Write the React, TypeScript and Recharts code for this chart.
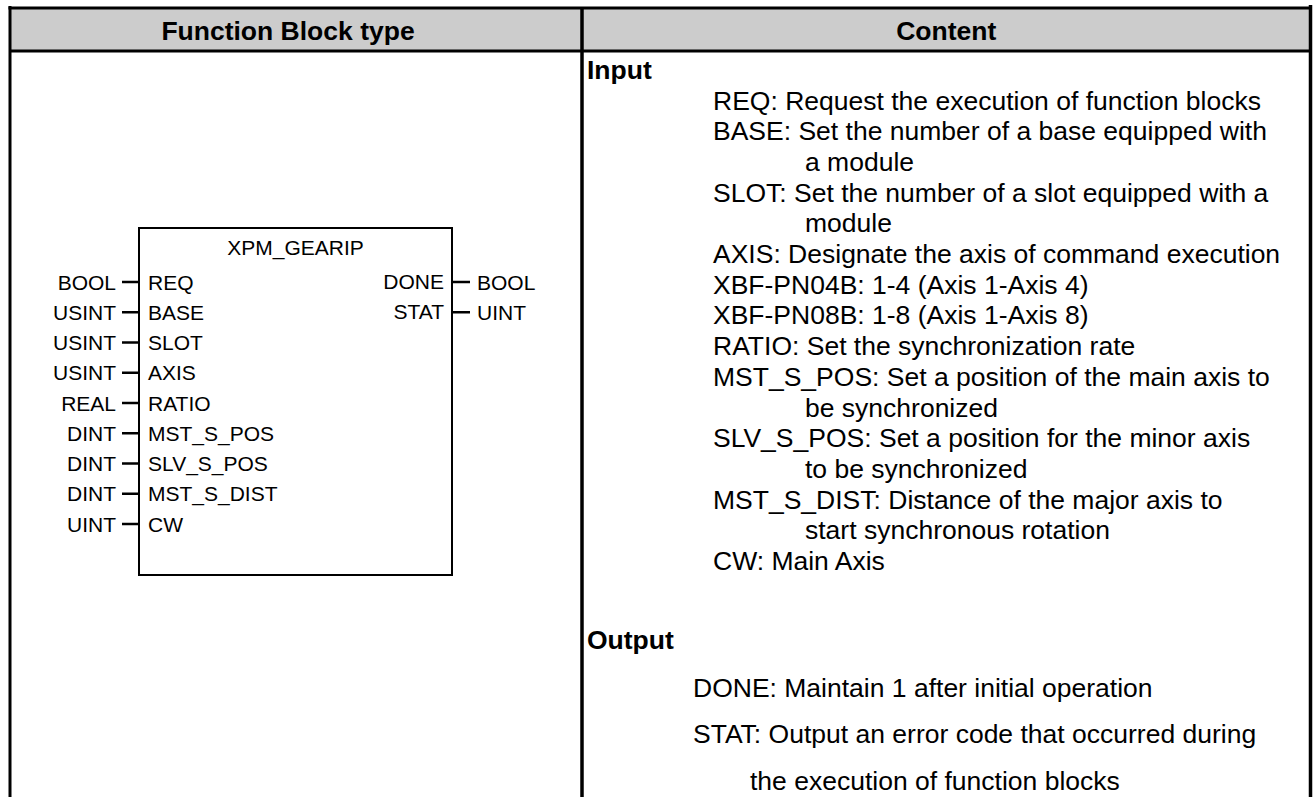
import React from 'react';
import {
  ReferenceArea,
  ReferenceLine,
  Scatter,
  ScatterChart,
  XAxis,
  YAxis,
} from 'recharts';

// page background should start at 0,0 like the reference
document.body.style.margin = '0';
document.body.style.overflow = 'hidden';

const W = 1314;
const H = 797;
const FONT = '"Liberation Sans", Arial, Helvetica, sans-serif';

// ---- table text ----
const headerLabels = ['Function Block type', 'Content'];
const sectionLabels = ['Input', 'Output'];

// ---- function block ----
const blockName = 'XPM_GEARIP';
const inputPins = ['REQ', 'BASE', 'SLOT', 'AXIS', 'RATIO', 'MST_S_POS', 'SLV_S_POS', 'MST_S_DIST', 'CW'];
const inputTypes = ['BOOL', 'USINT', 'USINT', 'USINT', 'REAL', 'DINT', 'DINT', 'DINT', 'UINT'];
const outputPins = ['DONE', 'STAT'];
const outputTypes = ['BOOL', 'UINT'];

// ---- content column (first line + wrapped continuation) ----
const inputLines = [
  ['REQ: Request the execution of function blocks'],
  ['BASE: Set the number of a base equipped with', 'a module'],
  ['SLOT: Set the number of a slot equipped with a', 'module'],
  ['AXIS: Designate the axis of command execution'],
  ['XBF-PN04B: 1-4 (Axis 1-Axis 4)'],
  ['XBF-PN08B: 1-8 (Axis 1-Axis 8)'],
  ['RATIO: Set the synchronization rate'],
  ['MST_S_POS: Set a position of the main axis to', 'be synchronized'],
  ['SLV_S_POS: Set a position for the minor axis', 'to be synchronized'],
  ['MST_S_DIST: Distance of the major axis to', 'start synchronous rotation'],
  ['CW: Main Axis'],
];
const outputLines = [
  ['DONE: Maintain 1 after initial operation'],
  ['STAT: Output an error code that occurred during', 'the execution of function blocks'],
];

// layout
const COL_L = 10;
const COL_M = 582;
const COL_R = 1310.5;
const TOP = 8;
const HEAD_B = 51;

const FB = {
  left: 139, right: 452, top: 228, bottom: 575,
  titleY: 247, pinY0: 282, pinStep: 30.25,
  stubIn: 122, stubOut: 470, typeIn: 116, typeOut: 477, pinIn: 148, pinOut: 444,
};

type Pt = { x: number; y: number; label: string };

function textShape(anchor: 'start' | 'middle' | 'end', size: number, weight = 'normal') {
  return (props: any) => {
    const { cx, cy, payload } = props;
    return (
      <text
        x={cx}
        y={cy}
        dy={size * 0.36}
        textAnchor={anchor}
        fontSize={size}
        fontWeight={weight}
        fontFamily={FONT}
        fill="#000"
      >
        {payload.label}
      </text>
    );
  };
}

function flowLines(groups: string[][], x0: number, x1: number, y0: number, step: number): Pt[] {
  const out: Pt[] = [];
  let i = 0;
  groups.forEach((g) => {
    g.forEach((t, j) => {
      out.push({ x: j === 0 ? x0 : x1, y: y0 + i * step, label: t });
      i++;
    });
  });
  return out;
}

export default function App() {
  const pinY = (i: number) => FB.pinY0 + i * FB.pinStep;

  const headerPts: Pt[] = [
    { x: (COL_L + COL_M) / 2 - 8, y: 30, label: headerLabels[0] },
    { x: (COL_M + COL_R) / 2, y: 30, label: headerLabels[1] },
  ];
  const sectionPts: Pt[] = [
    { x: 587, y: 69, label: sectionLabels[0] },
    { x: 587, y: 639, label: sectionLabels[1] },
  ];
  const titlePts: Pt[] = [{ x: (FB.left + FB.right) / 2, y: FB.titleY, label: blockName }];
  const inTypePts: Pt[] = inputTypes.map((t, i) => ({ x: FB.typeIn, y: pinY(i), label: t }));
  const inPinPts: Pt[] = inputPins.map((t, i) => ({ x: FB.pinIn, y: pinY(i), label: t }));
  const outPinPts: Pt[] = outputPins.map((t, i) => ({ x: FB.pinOut, y: pinY(i) - 1, label: t }));
  const outTypePts: Pt[] = outputTypes.map((t, i) => ({ x: FB.typeOut, y: pinY(i), label: t }));
  const contentPts: Pt[] = [
    ...flowLines(inputLines, 713, 805, 100, 30.7),
    ...flowLines(outputLines, 693, 750, 687, 46.5),
  ];

  return (
    <ScatterChart width={W} height={H} margin={{ top: 0, right: 0, bottom: 0, left: 0 }}>
      <XAxis type="number" dataKey="x" domain={[0, W]} hide allowDataOverflow />
      <YAxis type="number" dataKey="y" domain={[0, H]} reversed hide allowDataOverflow />

      {/* header band */}
      <ReferenceArea x1={COL_L} x2={COL_R} y1={TOP} y2={HEAD_B} fill="#cccccc" fillOpacity={1} stroke="none" />

      {/* table rules */}
      <ReferenceLine segment={[{ x: COL_L - 1.5, y: TOP }, { x: COL_R + 1.5, y: TOP }]} stroke="#000" strokeWidth={3} />
      <ReferenceLine segment={[{ x: COL_L, y: HEAD_B }, { x: COL_R, y: HEAD_B }]} stroke="#000" strokeWidth={3} />
      <ReferenceLine segment={[{ x: COL_L, y: 6 }, { x: COL_L, y: H }]} stroke="#000" strokeWidth={3} />
      <ReferenceLine segment={[{ x: COL_M, y: TOP }, { x: COL_M, y: H }]} stroke="#000" strokeWidth={3.5} />
      <ReferenceLine segment={[{ x: COL_R, y: 5 }, { x: COL_R, y: H }]} stroke="#000" strokeWidth={3.5} />

      {/* function block body */}
      <ReferenceArea
        x1={FB.left}
        x2={FB.right}
        y1={FB.top}
        y2={FB.bottom}
        fill="none"
        stroke="#000"
        strokeWidth={2}
      />
      {inputPins.map((p, i) => (
        <ReferenceLine
          key={p}
          segment={[{ x: FB.stubIn, y: pinY(i) }, { x: FB.left, y: pinY(i) }]}
          stroke="#000"
          strokeWidth={2.5}
        />
      ))}
      {outputPins.map((p, i) => (
        <ReferenceLine
          key={p}
          segment={[{ x: FB.right, y: pinY(i) }, { x: FB.stubOut, y: pinY(i) }]}
          stroke="#000"
          strokeWidth={2.5}
        />
      ))}

      <Scatter data={headerPts} shape={textShape('middle', 26.5, 'bold')} isAnimationActive={false} />
      <Scatter data={sectionPts} shape={textShape('start', 26.5, 'bold')} isAnimationActive={false} />
      <Scatter data={titlePts} shape={textShape('middle', 21)} isAnimationActive={false} />
      <Scatter data={inTypePts} shape={textShape('end', 21)} isAnimationActive={false} />
      <Scatter data={inPinPts} shape={textShape('start', 21)} isAnimationActive={false} />
      <Scatter data={outPinPts} shape={textShape('end', 21)} isAnimationActive={false} />
      <Scatter data={outTypePts} shape={textShape('start', 21)} isAnimationActive={false} />
      <Scatter data={contentPts} shape={textShape('start', 26.5)} isAnimationActive={false} />
    </ScatterChart>
  );
}
